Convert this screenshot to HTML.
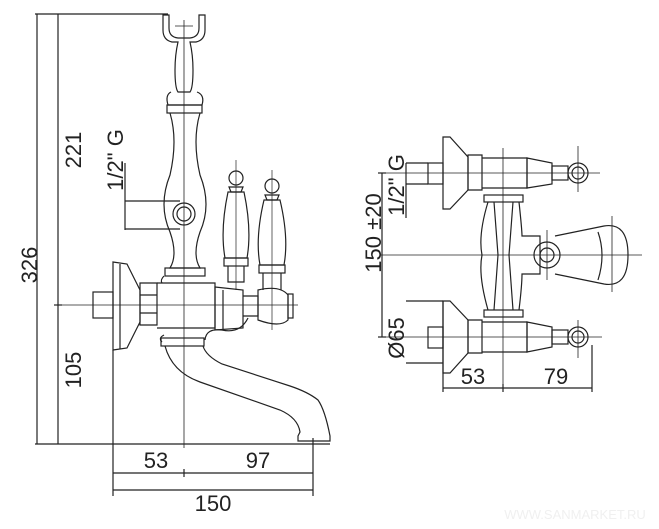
<!DOCTYPE html>
<html><head><meta charset="utf-8"><style>
html,body{margin:0;padding:0;background:#fff;}
svg{display:block}
text{font-family:"Liberation Sans",sans-serif;fill:#222;}
</style></head><body>
<svg width="659" height="529" viewBox="0 0 659 529" xmlns="http://www.w3.org/2000/svg">
<g stroke="#222" stroke-width="1.2" fill="none">
<line x1="37" y1="14" x2="37" y2="444"/>
<line x1="58" y1="14" x2="58" y2="444"/>
<line x1="35" y1="14" x2="168" y2="14"/>
<line x1="35" y1="444" x2="330" y2="444"/>
<line x1="54" y1="305" x2="62" y2="305"/>
<line x1="55" y1="305" x2="298" y2="305" stroke-width="0.8"/>
<line x1="184" y1="20" x2="184" y2="448" stroke-width="0.8"/>
<line x1="113" y1="350" x2="113" y2="496"/>
<line x1="313" y1="438" x2="313" y2="496"/>
<line x1="113" y1="473" x2="313" y2="473"/>
<line x1="113" y1="490" x2="313" y2="490"/>
<line x1="184" y1="469" x2="184" y2="477"/>
<line x1="125" y1="163" x2="125" y2="230"/>
<line x1="125" y1="201" x2="180" y2="201"/>
<line x1="125" y1="229" x2="180" y2="229"/>
<path d="M163,15 L163,30 Q163,40 172,42 L178,42 Q175,55 175,70 Q175,88 178,92 L190,92 Q193,88 193,70 Q193,55 190,42 L196,42 Q205,40 205,30 L205,15 L199,15 L199,28 Q199,37 190,38 L178,38 Q169,37 169,28 L169,15 Z"/>
<line x1="175" y1="26" x2="193" y2="26" stroke-width="0.8"/>
<path d="M171,92 Q165,95 168,105 L202,105 Q205,95 197,92"/>
<rect x="167" y="105" width="35" height="8"/>
<path d="M170,113 Q178,140 170,175 Q158,205 170,232 Q178,255 170,268 L200,268 Q192,255 200,232 Q212,205 200,175 Q192,140 200,113"/>
<rect x="165" y="268" width="40" height="8"/>
<circle cx="184" cy="214" r="11"/><circle cx="184" cy="214" r="7"/>
<rect x="93" y="292" width="20" height="26"/>
<path d="M113,262 L127,264 L140,290 L140,322 L127,348 L113,350 Z"/>
<line x1="120" y1="264" x2="120" y2="349"/>
<path d="M140,283 L157,283 L157,325 L140,325 Z M140,295 L157,295 M140,313 L157,313"/>
<path d="M157,283 L215,283 L215,328 L157,328"/>
<path d="M164,276 Q160,280 162,283 M164,335 Q158,338 162,342"/>
<path d="M215,287 L243,290 L243,328 L215,330 Z"/>
<path d="M223,290 L223,330"/>
<path d="M243,296 L258,296 L258,316 L243,316"/>
<path d="M258,290 Q280,285 288,295 L288,320 Q280,328 258,320 Z"/>
<rect x="288" y="294" width="5" height="24"/>
<g>
<circle cx="236" cy="178" r="7"/>
<path d="M229,187 L243,187 L241,192 L231,192 Z"/>
<path d="M228,192 Q220,230 225,258 L247,258 Q252,230 244,192 Z"/>
<rect x="224" y="258" width="24" height="8"/>
<path d="M228,266 L228,282 L244,282 L244,266"/>
</g>
<g>
<circle cx="272" cy="186" r="7"/>
<path d="M265,195 L279,195 L277,200 L267,200 Z"/>
<path d="M264,200 Q255,238 260,265 L284,265 Q289,238 280,200 Z"/>
<rect x="259" y="265" width="26" height="8"/>
<path d="M263,273 L263,290 M281,273 L281,290"/>
</g>
<line x1="236" y1="160" x2="236" y2="290" stroke-width="0.7"/>
<line x1="272" y1="170" x2="272" y2="330" stroke-width="0.7"/>
<path d="M248,318 Q240,334 222,330 Q206,328 205,340"/>
<rect x="161" y="338" width="43" height="8"/>
<path d="M165,346 Q172,372 200,382 L280,410 Q298,418 300,432 L298,436 L298,441 L330,441 L330,436 Q325,410 318,400 Q308,392 290,386 L222,364 Q206,356 203,346"/>
<line x1="503" y1="148" x2="503" y2="392" stroke-width="0.8"/>
<line x1="380" y1="255" x2="642" y2="255" stroke-width="0.8"/>
<line x1="378" y1="173" x2="600" y2="173" stroke-width="0.8"/>
<line x1="378" y1="337" x2="602" y2="337" stroke-width="0.8"/>
<line x1="578" y1="146" x2="578" y2="192" stroke-width="0.8"/>
<line x1="578" y1="320" x2="578" y2="358" stroke-width="0.8"/>
<line x1="547" y1="230" x2="547" y2="280" stroke-width="0.8"/>
<line x1="612" y1="216" x2="612" y2="292" stroke-width="0.8"/>
<line x1="382" y1="173" x2="382" y2="337"/>
<line x1="378" y1="173" x2="386" y2="173"/>
<line x1="378" y1="337" x2="386" y2="337"/>
<line x1="406" y1="163" x2="406" y2="218"/>
<line x1="406" y1="163" x2="428" y2="163"/>
<line x1="406" y1="184" x2="428" y2="184"/>
<line x1="406" y1="301" x2="443" y2="301"/>
<line x1="406" y1="363" x2="443" y2="363"/>
<line x1="443" y1="301" x2="443" y2="392"/>
<line x1="592" y1="345" x2="592" y2="392"/>
<line x1="443" y1="388" x2="592" y2="388"/>
<line x1="503" y1="384" x2="503" y2="392"/>
<rect x="428" y="163" width="15" height="21"/>
<path d="M443,137 L450,137 L468,157 L468,190 L450,209 L443,209 Z"/>
<path d="M468,155 L482,155 L482,190 L468,190 Z"/>
<path d="M482,158 L527,158 L527,188 L482,188"/>
<path d="M527,158 L552,163 L552,184 L527,188 Z"/>
<rect x="552" y="166" width="16" height="14"/>
<circle cx="578" cy="173" r="10"/><circle cx="578" cy="173" r="6"/>
<rect x="428" y="327" width="15" height="21"/>
<path d="M443,301 L450,301 L468,320 L468,353 L450,373 L443,373 Z"/>
<path d="M468,320 L482,320 L482,353 L468,353 Z"/>
<path d="M482,322 L527,322 L527,352 L482,352"/>
<path d="M527,322 L552,327 L552,347 L527,352 Z"/>
<rect x="552" y="330" width="16" height="14"/>
<circle cx="578" cy="337" r="10"/><circle cx="578" cy="337" r="6"/>
<rect x="484" y="195" width="39" height="7"/>
<rect x="484" y="310" width="39" height="7"/>
<path d="M488,202 Q478,235 482,255 Q478,275 488,310 M519,202 Q522,230 522,236 L540,236 L540,274 L522,274 Q522,285 519,310"/>
<path d="M494,202 L498,255 L494,310 M513,202 L509,255 L513,310"/>
<circle cx="547" cy="255" r="13"/><circle cx="547" cy="255" r="7"/>
<path d="M555,236 L604,226 Q628,222 628,255 Q628,288 604,284 L555,274"/>
<path d="M598,232 Q606,255 598,280"/>
</g>
<g font-size="22">
<text transform="translate(37,265) rotate(-90)" text-anchor="middle">326</text>
<text transform="translate(81,150) rotate(-90)" text-anchor="middle">221</text>
<text transform="translate(81,370) rotate(-90)" text-anchor="middle">105</text>
<text transform="translate(123,160) rotate(-90)" text-anchor="middle">1/2" G</text>
<text x="156" y="468" text-anchor="middle">53</text>
<text x="258" y="468" text-anchor="middle">97</text>
<text x="213" y="511" text-anchor="middle">150</text>
<text transform="translate(381,233) rotate(-90)" text-anchor="middle">150 ±20</text>
<text transform="translate(404,185) rotate(-90)" text-anchor="middle">1/2" G</text>
<text transform="translate(404,338) rotate(-90)" text-anchor="middle">Ø65</text>
<text x="473" y="384" text-anchor="middle">53</text>
<text x="556" y="384" text-anchor="middle">79</text>
</g>
<text x="575" y="519" text-anchor="middle" font-size="13" style="fill:#f0f0f0">WWW.SANMARKET.RU</text>
</svg>
</body></html>
